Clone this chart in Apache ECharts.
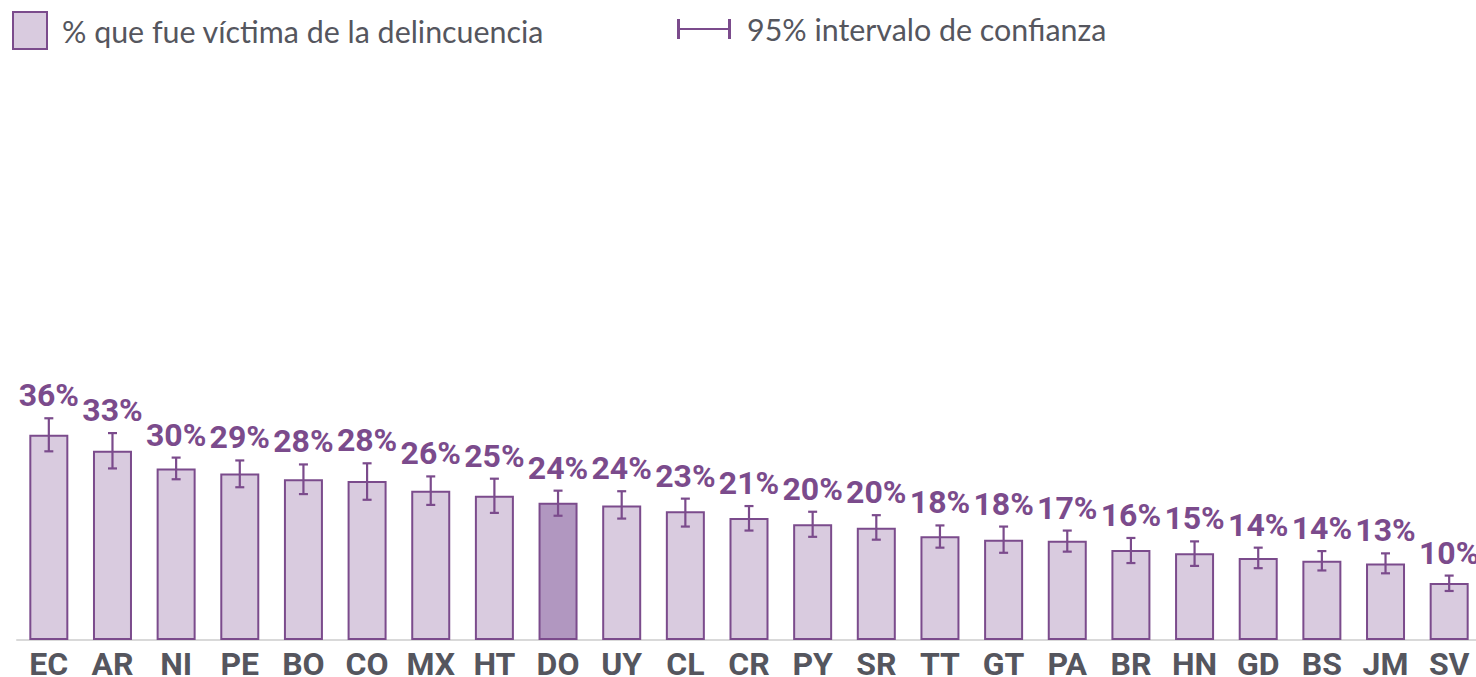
<!DOCTYPE html>
<html>
<head>
<meta charset="utf-8">
<script src="https://cdn.jsdelivr.net/npm/echarts@6/dist/echarts.min.js"></script>
<style>
  html, body { margin: 0; padding: 0; background: #fff; overflow: hidden; }
  #chart { width: 1476px; height: 677px; }
</style>
</head>
<body>
<div id="chart"></div>
<script>
// países (códigos)
const countries = ['EC', 'AR', 'NI', 'PE', 'BO', 'CO', 'MX', 'HT', 'DO', 'UY', 'CL', 'CR',
  'PY', 'SR', 'TT', 'GT', 'PA', 'BR', 'HN', 'GD', 'BS', 'JM', 'SV'];
// % que fue víctima de la delincuencia
const victimPct = [36.0, 33.2, 30.1, 29.2, 28.2, 27.9, 26.2, 25.3, 24.1, 23.6, 22.6, 21.4,
  20.3, 19.7, 18.2, 17.6, 17.4, 15.8, 15.2, 14.4, 13.9, 13.4, 10.0];
// intervalo de confianza 95%
const ciLow = [33.1, 30.1, 28.2, 26.8, 25.6, 24.6, 23.7, 22.3, 21.8, 21.3, 19.9, 19.2,
  18.1, 17.6, 16.2, 15.3, 15.5, 13.5, 13.0, 12.6, 12.2, 11.7, 8.6];
const ciHigh = [38.9, 36.3, 32.0, 31.5, 30.8, 31.0, 28.7, 28.3, 26.2, 26.1, 24.8, 23.5,
  22.5, 21.9, 20.1, 19.9, 19.2, 17.9, 17.3, 16.2, 15.6, 15.2, 11.3];
const highlight = 'DO';

const purple = '#7b4b8c';
const barFill = '#d9cbdf';
const barFillHi = '#b197c0';
const greyText = '#55565e';

const barData = victimPct.map((v, i) => ({
  value: v,
  itemStyle: countries[i] === highlight ? { color: barFillHi } : undefined
}));
const ciData = countries.map((c, i) => [i, ciLow[i], ciHigh[i], victimPct[i]]);

const chart = echarts.init(document.getElementById('chart'), null, { renderer: 'svg' });

const option = {
  animation: false,
  legend: [
    {
      data: [{ name: '% que fue víctima de la delincuencia', icon: 'rect' }],
      left: 12,
      top: 11,
      padding: 0,
      itemWidth: 34,
      itemHeight: 37,
      textStyle: { fontFamily: 'Lato', fontSize: 30.4, color: greyText, padding: [0, 0, 0, 10] }
    },
    {
      data: [{
        name: '95% intervalo de confianza',
        icon: 'path://M0,0h3v20h-3z M0,9h54v2h-54z M51,0h3v20h-3z',
        itemStyle: { color: purple, borderWidth: 0 }
      }],
      left: 677,
      top: 14,
      padding: 0,
      itemWidth: 54,
      itemHeight: 20,
      textStyle: { fontFamily: 'Lato', fontSize: 30.4, color: greyText, padding: [0, 0, 0, 11] }
    }
  ],
  grid: { left: 17, right: -5, top: 70, bottom: 37, outerBoundsMode: 'none' },
  xAxis: {
    type: 'category',
    data: countries,
    axisTick: { show: false },
    axisLine: { lineStyle: { color: '#d9d9d9', width: 2 } },
    axisLabel: {
      fontFamily: 'Roboto',
      fontWeight: 'bold',
      fontSize: 32,
      lineHeight: 30,
      color: greyText,
      margin: 9,
      interval: 0
    }
  },
  yAxis: {
    type: 'value',
    min: 0,
    max: 100,
    show: false
  },
  series: [
    {
      name: '% que fue víctima de la delincuencia',
      type: 'bar',
      data: barData,
      barWidth: 39,
      itemStyle: { color: barFill, borderColor: purple, borderWidth: 2 },
      z: 2
    },
    {
      name: '95% intervalo de confianza',
      type: 'custom',
      data: ciData,
      itemStyle: { color: purple },
      z: 3,
      renderItem: function (params, api) {
        const x = api.value(0);
        const lo = api.coord([x, api.value(1)]);
        const hi = api.coord([x, api.value(2)]);
        const cap = 4.5;
        const pct = Math.round(api.value(3)) + '%';
        const line = { stroke: purple, lineWidth: 2.2 };
        return {
          type: 'group',
          children: [
            { type: 'line', shape: { x1: hi[0], y1: hi[1], x2: lo[0], y2: lo[1] }, style: line },
            { type: 'line', shape: { x1: hi[0] - cap, y1: hi[1], x2: hi[0] + cap, y2: hi[1] }, style: line },
            { type: 'line', shape: { x1: lo[0] - cap, y1: lo[1], x2: lo[0] + cap, y2: lo[1] }, style: line },
            {
              type: 'text',
              style: {
                text: pct,
                x: hi[0],
                y: hi[1] - 7,
                align: 'center',
                verticalAlign: 'bottom',
                font: 'bold 32px Roboto',
                fill: purple
              }
            }
          ]
        };
      }
    }
  ]
};

chart.setOption(option);
</script>
</body>
</html>
